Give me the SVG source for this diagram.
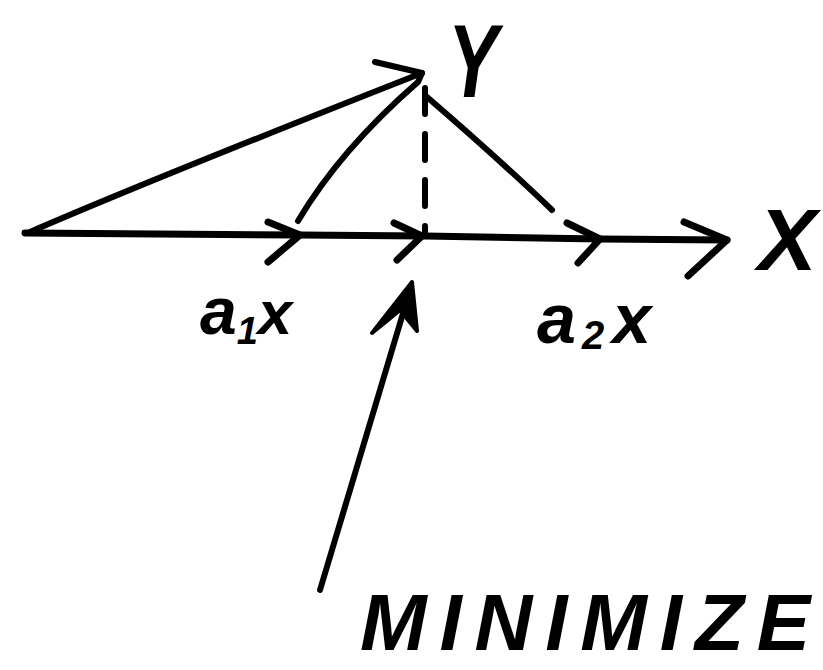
<svg xmlns="http://www.w3.org/2000/svg" width="823" height="670" viewBox="0 0 823 670">
<style>
.ln{fill:none;stroke:#000;stroke-width:6;stroke-linecap:round;stroke-linejoin:round}
.ax{fill:none;stroke:#000;stroke-width:7;stroke-linecap:round;stroke-linejoin:round}
.lbl{font-family:"Liberation Sans",Arial,sans-serif;font-style:italic;font-weight:bold;fill:#000}
</style>
<rect width="823" height="670" fill="#fff"/>
<g id="connectors">
  <path class="ax" d="M25,233 L300,235 L425,236 L600,239 L727,240"/>
  <path class="ax" d="M268,222 L300,235 L268,262"/>
  <path class="ax" d="M394,223 L422,236 L397,260"/>
  <path class="ax" d="M567,223 L600,239 L578,263"/>
  <path class="ax" d="M684,222 L727,240 L688,276"/>
  <path class="ln" d="M30,232 Q150,180 422,73"/>
  <path class="ln" d="M375,62 L422,73 L418,82 Q340,150 298,221"/>
  <path class="ln" d="M427,97 Q500,160 552,210"/>
  <path class="ln" d="M425,88 L425,236" stroke-dasharray="26,20"/>
  <path class="ln" d="M320,590 L410,290"/>
  <path d="M412,282 L372,333 L388,320 L400,310 L417,331 Z" fill="#000" stroke="#000" stroke-width="4" stroke-linejoin="round"/>
</g>
<g id="label-y"><text class="lbl" transform="translate(448,97) scale(0.72,1)" font-size="104">Y</text></g>
<g id="label-x"><text class="lbl" x="758" y="270" font-size="88">X</text></g>
<g id="label-a1x"><text class="lbl" x="200" y="334" font-size="66">a<tspan font-size="38" dy="10">1</tspan><tspan dy="-10" font-size="62">x</tspan></text></g>
<g id="label-a2x"><text class="lbl" x="537" y="343" font-size="70">a<tspan font-size="40" dx="6" dy="6">2</tspan><tspan dx="8" dy="-6" font-size="70">x</tspan></text></g>
<g id="label-minimize"><text class="lbl" x="360" y="650" font-size="80" textLength="450" lengthAdjust="spacing">MINIMIZE</text></g>
</svg>
